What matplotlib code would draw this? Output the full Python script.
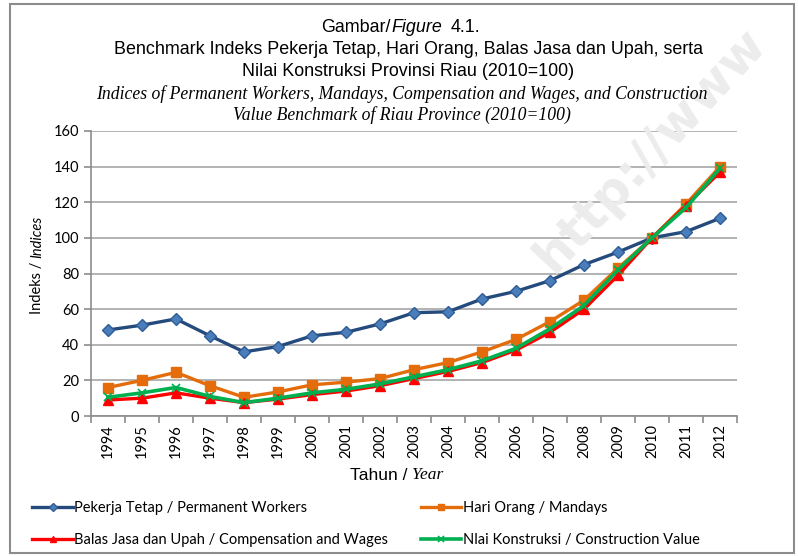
import matplotlib
matplotlib.use("Agg")
import matplotlib.pyplot as plt
from matplotlib.patches import Rectangle
from matplotlib.ticker import MultipleLocator, FixedLocator
import numpy as np

years = [str(y) for y in range(1994, 2013)]
permanent_workers = [48.3, 51, 54.5, 45, 36, 39, 45, 47, 51.7, 58, 58.5, 65.7, 70, 76, 85, 92, 100, 103.5, 111]
mandays = [16, 20, 24.5, 17, 10.5, 13.5, 17.5, 19, 21, 26, 30, 36, 43, 53, 65, 83, 100, 119, 140]
compensation = [9, 10, 13, 10, 7.5, 9.5, 12, 14, 17, 21, 25, 30, 37, 47, 60, 79, 100, 118, 137]
construction = [10.5, 13, 16, 11, 7.5, 10, 13, 15, 18, 22, 26, 31, 38, 49, 62, 82, 100, 117, 139]

labels = ["Pekerja Tetap / Permanent Workers", "Hari Orang / Mandays",
          "Balas Jasa dan Upah / Compensation and Wages", "Nlai Konstruksi / Construction Value"]

fig = plt.figure(figsize=(7.98, 5.56), dpi=100)
W, H = 798, 556

# watermark (behind everything)
fig.text(650 / W, 1 - 150 / H, "http://www", rotation=47, ha="center", va="center",
         fontsize=36, fontweight="bold", color="#ececec", family="DejaVu Sans", zorder=0)

ax = fig.add_axes([91 / W, 1 - 416 / H, (737 - 91) / W, (416 - 131) / H])
ax.patch.set_alpha(0)

x = np.arange(len(years))
l1, = ax.plot(x, permanent_workers, color="#254a7c", lw=2.4, marker="D", ms=6,
              mfc="#4a7ebb", mec="#2f5c96", zorder=3)
l2, = ax.plot(x, mandays, color="#e46c0a", lw=2.4, marker="s", ms=7,
              mfc="#e46c0a", mec="#e46c0a", zorder=3)
l3, = ax.plot(x, compensation, color="#ff0000", lw=2.4, marker="^", ms=7,
              mfc="#ff0000", mec="#ff0000", zorder=4)
l4, = ax.plot(x, construction, color="#00b050", lw=2.6, marker="x", ms=6, mew=1.2, zorder=5)

ax.set_xlim(-0.5, len(years) - 0.5)
ax.set_ylim(0, 160)
ax.yaxis.set_major_locator(MultipleLocator(20))
ax.grid(axis="y", color="#a6a6a6", lw=1.2)
ax.set_axisbelow(True)
for s in ["top", "right"]:
    ax.spines[s].set_visible(False)
for s in ["left", "bottom"]:
    ax.spines[s].set_color("#8c8c8c")
    ax.spines[s].set_linewidth(1.2)

ax.set_xticks(x)
ax.set_xticklabels(years, rotation=90, fontsize=10.5, family="Lato")
ax.tick_params(axis="x", which="major", length=0, pad=6)
ax.xaxis.set_minor_locator(FixedLocator(np.arange(-0.5, len(years), 1)))
ax.tick_params(axis="x", which="minor", length=5, color="#8c8c8c", width=1.2)
ax.tick_params(axis="y", length=5, color="#8c8c8c", width=1.2, labelsize=10.5)
for t in ax.get_yticklabels():
    t.set_family("Lato")

# axis labels
fig.text(412 / W, 1 - 475 / H, "Tahun / ", ha="right", va="center", fontsize=12.5, family="Liberation Sans")
fig.text(412 / W, 1 - 475 / H, "Year", ha="left", va="center", fontsize=12.5, family="Liberation Serif", style="italic")
fig.text(37 / W, 1 - 258 / H, "Indeks / ", ha="center", va="top", rotation=90, fontsize=10.5, family="Lato")
fig.text(37 / W, 1 - 258 / H, "Indices", ha="center", va="bottom", rotation=90, fontsize=10.5, family="Lato", style="italic")

# titles
fs_t = 12.9
fig.text(391 / W, 1 - 28 / H, "Gambar/", ha="right", va="center", fontsize=fs_t, family="Liberation Sans")
fig.text(391 / W, 1 - 28 / H, "Figure", ha="left", va="center", fontsize=fs_t, family="Liberation Sans", style="italic")
fig.text(451 / W, 1 - 28 / H, "4.1.", ha="left", va="center", fontsize=fs_t, family="Liberation Sans")
fig.text(408 / W, 1 - 49 / H, "Benchmark Indeks Pekerja Tetap, Hari Orang, Balas Jasa dan Upah, serta",
         ha="center", va="center", fontsize=fs_t, family="Liberation Sans")
fig.text(408 / W, 1 - 71 / H, "Nilai Konstruksi Provinsi Riau (2010=100)",
         ha="center", va="center", fontsize=fs_t, family="Liberation Sans")
fig.text(402 / W, 1 - 94 / H, "Indices of Permanent Workers, Mandays, Compensation and Wages, and Construction",
         ha="center", va="center", fontsize=12.7, family="Liberation Serif", style="italic")
fig.text(402 / W, 1 - 115 / H, "Value Benchmark of Riau Province (2010=100)",
         ha="center", va="center", fontsize=12.7, family="Liberation Serif", style="italic")

# legend (row-wise order: l1, l2 / l3, l4)
leg = fig.legend([l1, l3, l2, l4], [labels[0], labels[2], labels[1], labels[3]], ncol=2, loc="upper left",
                 bbox_to_anchor=(19 / W, 1 - 488 / H), frameon=False,
                 prop={"family": "Lato", "size": 10.5}, handlelength=2.8, handletextpad=0.1,
                 columnspacing=2.2, labelspacing=1.25, markerscale=0.7)

fig.patches.append(Rectangle((10 / W, 3 / H), 784 / W, 549 / H, transform=fig.transFigure,
                             fill=False, edgecolor="#8c8c8c", lw=1.5))

fig.savefig("out.png", dpi=100)
